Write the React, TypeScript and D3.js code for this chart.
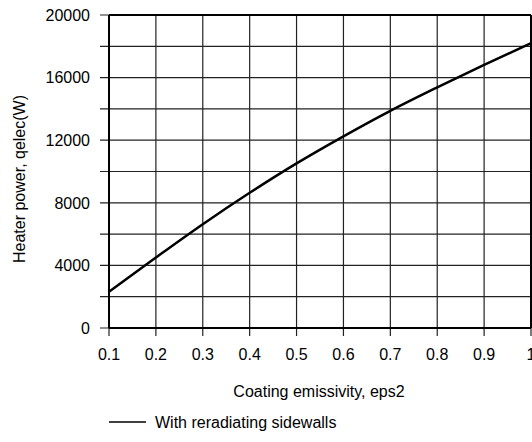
import React from "react";
import * as d3 from "d3";

const emissivity = [0.1, 0.2, 0.3, 0.4, 0.5, 0.6, 0.7, 0.8, 0.9, 1.0];
const heaterPower = [2320, 4500, 6630, 8640, 10520, 12250, 13880, 15380, 16820, 18200];
const xTicks = [0.1, 0.2, 0.3, 0.4, 0.5, 0.6, 0.7, 0.8, 0.9, 1];
const yGrid = [0, 2000, 4000, 6000, 8000, 10000, 12000, 14000, 16000, 18000, 20000];
const yLabels = [0, 4000, 8000, 12000, 16000, 20000];

const W = 532;
const H = 442;
const left = 109;
const right = 531;
const top = 15;
const bottom = 328;
const font = "Arial, 'Liberation Sans', Helvetica, sans-serif";

export default function App() {
  const x = d3.scaleLinear().domain([0.1, 1]).range([left, right]);
  const y = d3.scaleLinear().domain([0, 20000]).range([bottom, top]);
  const line = d3
    .line<number>()
    .x((_, i) => x(emissivity[i]))
    .y((d) => y(d))
    .curve(d3.curveMonotoneX);
  const fmtX = (v: number) => (v === 1 ? "1" : v.toFixed(1));

  return (
    <svg
      width={W}
      height={H}
      style={{ position: "absolute", left: 0, top: 0, background: "#fff" }}
      fontFamily={font}
    >
      {/* grid */}
      {xTicks.map((t) => (
        <line key={"gx" + t} x1={x(t)} x2={x(t)} y1={top} y2={bottom + 8} stroke="#222" strokeWidth={1.2} />
      ))}
      {yGrid.map((t) => (
        <line key={"gy" + t} x1={left - 9} x2={right} y1={y(t)} y2={y(t)} stroke="#222" strokeWidth={1.2} />
      ))}
      {/* frame */}
      <line x1={left} x2={left} y1={top} y2={bottom} stroke="#000" strokeWidth={2} />
      <line x1={left} x2={right} y1={bottom} y2={bottom} stroke="#000" strokeWidth={2} />
      <line x1={left} x2={right} y1={top} y2={top} stroke="#000" strokeWidth={2} />
      <line x1={right} x2={right} y1={top} y2={bottom} stroke="#000" strokeWidth={2} />
      {/* y labels */}
      {yLabels.map((t) => (
        <text key={"yl" + t} x={90} y={y(t)} dy="0.36em" textAnchor="end" fontSize={16} fill="#000">
          {t}
        </text>
      ))}
      {/* x labels */}
      {xTicks.map((t) => (
        <text key={"xl" + t} x={x(t)} y={360} textAnchor="middle" fontSize={16} fill="#000">
          {fmtX(t)}
        </text>
      ))}
      {/* curve */}
      <path d={line(heaterPower) || ""} fill="none" stroke="#000" strokeWidth={2.5} />
      {/* axis titles */}
      <text x={319} y={397} textAnchor="middle" fontSize={16} fill="#000">
        Coating emissivity, eps2
      </text>
      <text transform={`translate(25,179) rotate(-90)`} textAnchor="middle" fontSize={16} fill="#000">
        Heater power, qelec(W)
      </text>
      {/* legend */}
      <line x1={109} x2={146} y1={422} y2={422} stroke="#000" strokeWidth={1.5} />
      <text x={155} y={422} dy="0.36em" fontSize={16} fill="#000">
        With reradiating sidewalls
      </text>
    </svg>
  );
}
